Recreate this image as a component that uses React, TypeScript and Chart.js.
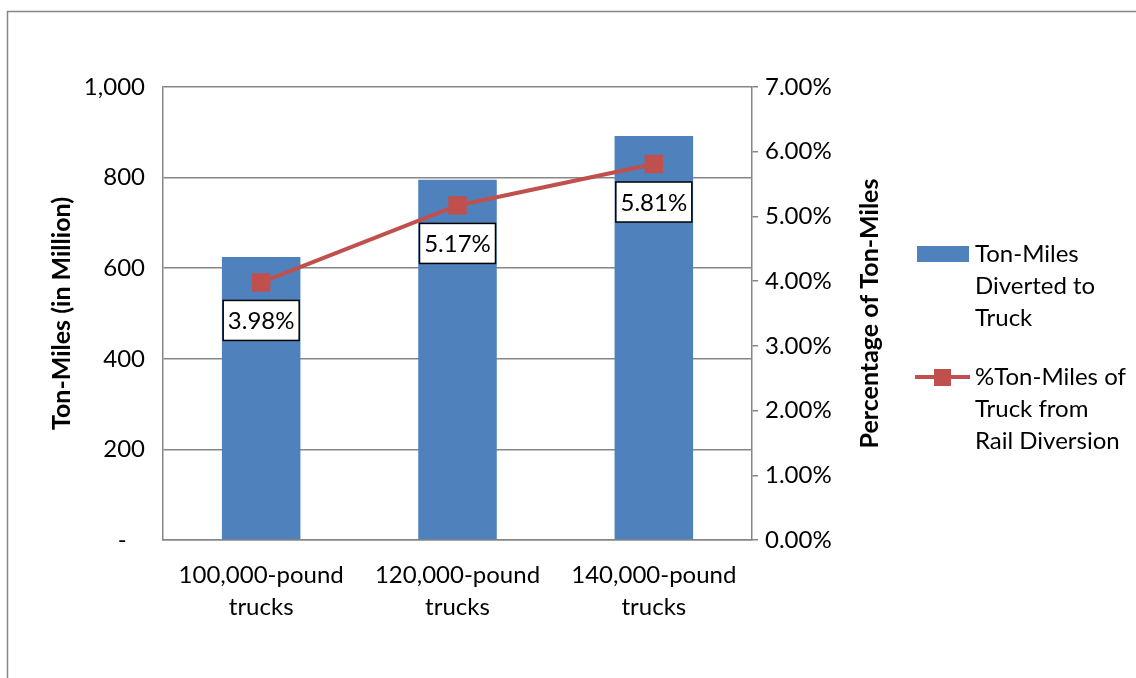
import React, { useEffect, useRef } from "react";
import { Chart, registerables } from "chart.js";

Chart.register(...registerables);

const categories: string[][] = [
  ["100,000-pound", "trucks"],
  ["120,000-pound", "trucks"],
  ["140,000-pound", "trucks"],
];
const tonMiles: number[] = [625, 795, 892];
const pctTonMiles: number[] = [3.98, 5.17, 5.81];
const barLegend: string[] = ["Ton-Miles", "Diverted to", "Truck"];
const lineLegend: string[] = ["%Ton-Miles of", "Truck from", "Rail Diversion"];
const leftTitle = "Ton-Miles (in Million)";
const rightTitle = "Percentage of Ton-Miles";

const FONT = "Lato, 'Open Sans', sans-serif";
const BLUE = "#4F81BD";
const RED = "#C0504D";
const GREY = "#868686";

const decorPlugin = {
  id: "decor",
  afterDatasetsDraw(chart: any) {
    const ctx = chart.ctx;
    const meta = chart.getDatasetMeta(1);
    ctx.save();
    ctx.font = `24px ${FONT}`;
    ctx.textAlign = "center";
    ctx.textBaseline = "middle";
    meta.data.forEach((pt: any, i: number) => {
      const cx = pt.x;
      const cy = pt.y + 38;
      const w = 76;
      const h = 40;
      ctx.fillStyle = "#fff";
      ctx.fillRect(cx - w / 2, cy - h / 2, w, h);
      ctx.strokeStyle = "#000";
      ctx.lineWidth = 1.5;
      ctx.strokeRect(cx - w / 2, cy - h / 2, w, h);
      ctx.fillStyle = "#000";
      ctx.fillText(pctTonMiles[i].toFixed(2) + "%", cx, cy + 1);
    });
    ctx.restore();
  },
  afterDraw(chart: any) {
    const ctx = chart.ctx;
    const area = chart.chartArea;
    const midY = (area.top + area.bottom) / 2;
    ctx.save();
    // outer border
    ctx.strokeStyle = GREY;
    ctx.lineWidth = 1.5;
    ctx.strokeRect(7.5, 11.5, 1300, 1000);
    // axis titles
    ctx.fillStyle = "#000";
    ctx.font = `bold 25px ${FONT}`;
    ctx.textAlign = "center";
    ctx.textBaseline = "middle";
    ctx.save();
    ctx.translate(62, midY);
    ctx.rotate(-Math.PI / 2);
    ctx.fillText(leftTitle, 0, 0);
    ctx.restore();
    ctx.save();
    ctx.translate(870, midY);
    ctx.rotate(-Math.PI / 2);
    ctx.fillText(rightTitle, 0, 0);
    ctx.restore();
    // legend
    ctx.font = `24px ${FONT}`;
    ctx.textAlign = "left";
    ctx.fillStyle = BLUE;
    ctx.fillRect(917, 246, 52, 16);
    ctx.fillStyle = "#000";
    barLegend.forEach((t, i) => ctx.fillText(t, 975, 254 + i * 32));
    ctx.strokeStyle = RED;
    ctx.lineWidth = 4;
    ctx.beginPath();
    ctx.moveTo(915, 377);
    ctx.lineTo(970, 377);
    ctx.stroke();
    ctx.fillStyle = RED;
    ctx.fillRect(934, 369, 17, 17);
    ctx.fillStyle = "#000";
    lineLegend.forEach((t, i) => ctx.fillText(t, 975, 377 + i * 32));
    ctx.restore();
  },
};

export default function App() {
  const ref = useRef<HTMLCanvasElement>(null);
  useEffect(() => {
    if (!ref.current) return;
    const chart = new Chart(ref.current, {
      type: "bar",
      data: {
        labels: categories as any,
        datasets: [
          {
            type: "bar",
            label: barLegend.join(" "),
            data: tonMiles,
            backgroundColor: BLUE,
            yAxisID: "y",
            order: 1,
            barPercentage: 0.4,
            categoryPercentage: 1,
          },
          {
            type: "line",
            label: lineLegend.join(" "),
            data: pctTonMiles,
            borderColor: RED,
            backgroundColor: RED,
            borderWidth: 4,
            pointStyle: "rect",
            pointRadius: 13,
            pointBorderWidth: 0,
            yAxisID: "y1",
            order: 0,
          } as any,
        ],
      },
      options: {
        animation: false,
        responsive: false,
        layout: { padding: { left: 0, top: 87, right: 284, bottom: 38 } },
        plugins: { legend: { display: false }, tooltip: { enabled: false } },
        scales: {
          x: {
            grid: { display: false },
            border: { display: true, color: GREY, width: 1.5 },
            ticks: { color: "#000", font: { family: FONT, size: 24, lineHeight: 1.3 }, padding: 12 },
            afterFit: (s: any) => { s.height = 100; },
          },
          y: {
            position: "left",
            min: 0,
            max: 1000,
            ticks: {
              stepSize: 200,
              color: "#000",
              font: { family: FONT, size: 24 },
              padding: 18,
              callback: (v: any) => (v === 0 ? "-   " : Number(v).toLocaleString("en-US")),
            },
            grid: { color: GREY, lineWidth: 1.5, drawTicks: false },
            border: { display: true, color: GREY, width: 1.5 },
            afterFit: (s: any) => { s.width = 163; },
          },
          y1: {
            position: "right",
            min: 0,
            max: 7,
            ticks: {
              stepSize: 1,
              color: "#000",
              font: { family: FONT, size: 24 },
              padding: 7,
              callback: (v: any) => Number(v).toFixed(2) + "%",
            },
            grid: { drawOnChartArea: false, color: GREY, lineWidth: 1.5, tickLength: 6 },
            border: { display: true, color: GREY, width: 1.5 },
            afterFit: (s: any) => { s.width = 100; },
          },
        },
      },
      plugins: [decorPlugin],
    });
    return () => chart.destroy();
  }, []);
  return (
    <div style={{ position: "absolute", left: 0, top: 0, width: 1136, height: 678, background: "#fff" }}>
      <canvas ref={ref} width={1136} height={678} style={{ display: "block" }} />
    </div>
  );
}
